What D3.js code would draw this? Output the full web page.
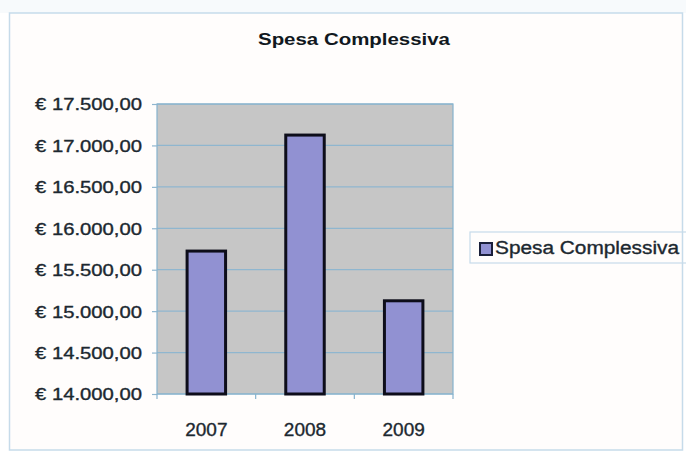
<!DOCTYPE html>
<html>
<head>
<meta charset="utf-8">
<script src="https://cdn.jsdelivr.net/npm/d3@7"></script>
<style>
  html, body { margin: 0; padding: 0; background: #ffffff; }
  svg { display: block; }
  text { font-family: Arial, "Liberation Sans", sans-serif; }
</style>
</head>
<body>
<svg id="chart" width="686" height="455"></svg>
<script>
const categories = ["2007", "2008", "2009"];
const seriesName = "Spesa Complessiva";
const values = [15725, 17125, 15125];
const yTicks = [14000, 14500, 15000, 15500, 16000, 16500, 17000, 17500];
const yTickLabels = ["€ 14.000,00", "€ 14.500,00", "€ 15.000,00", "€ 15.500,00",
                     "€ 16.000,00", "€ 16.500,00", "€ 17.000,00", "€ 17.500,00"];
const titleText = "Spesa Complessiva";

const svg = d3.select("#chart");
const W = 686, H = 455;

// faint top band
svg.append("rect").attr("x", 0).attr("y", 0).attr("width", W).attr("height", 13).attr("fill", "#f7fafc");
// outer frame
svg.append("rect").attr("x", 9.5).attr("y", 13).attr("width", 673).attr("height", 437)
  .attr("fill", "#fffdfc").attr("stroke", "#c6dbea").attr("stroke-width", 1.5);

const plot = { left: 157, right: 453, top: 104, bottom: 394 };

const x = d3.scaleBand().domain(categories).range([plot.left, plot.right]).padding(0);
const y = d3.scaleLinear().domain([14000, 17500]).range([plot.bottom, plot.top]);

// plot background
svg.append("rect").attr("x", plot.left).attr("y", plot.top)
  .attr("width", plot.right - plot.left).attr("height", plot.bottom - plot.top)
  .attr("fill", "#c6c6c6");

// gridlines
svg.append("g").selectAll("line").data(yTicks).join("line")
  .attr("x1", plot.left).attr("x2", plot.right)
  .attr("y1", d => y(d)).attr("y2", d => y(d))
  .attr("stroke", "#8fb6cf").attr("stroke-width", 1.2);

// plot border
svg.append("rect").attr("x", plot.left).attr("y", plot.top)
  .attr("width", plot.right - plot.left).attr("height", plot.bottom - plot.top)
  .attr("fill", "none").attr("stroke", "#86b3ce").attr("stroke-width", 1.2);

// bars
const barW = x.bandwidth() * 0.39;
svg.append("g").selectAll("rect").data(values).join("rect")
  .attr("x", (d, i) => x(categories[i]) + x.bandwidth() / 2 - barW / 2)
  .attr("y", d => y(d))
  .attr("width", barW)
  .attr("height", d => y(14000) - y(d))
  .attr("fill", "#9191d2")
  .attr("stroke", "#0d0d1a").attr("stroke-width", 3);

// y axis
const yAxis = d3.axisLeft(y).tickValues(yTicks)
  .tickFormat((d, i) => yTickLabels[i]).tickSize(5).tickPadding(10);
const gy = svg.append("g").attr("transform", `translate(${plot.left},0)`).call(yAxis);
gy.select(".domain").remove();
gy.selectAll(".tick line").attr("stroke", "#8fb6cf").attr("stroke-width", 1.2);
gy.selectAll(".tick text")
  .attr("font-size", 16.5).attr("fill", "#1c2830")
  .attr("stroke", "#1c2830").attr("stroke-width", 0.35)
  .attr("dy", "0.36em")
  .attr("textLength", 107).attr("lengthAdjust", "spacingAndGlyphs");

// x axis
const xAxis = d3.axisBottom(x).tickSize(0).tickPadding(29);
const gx = svg.append("g").attr("transform", `translate(0,${plot.bottom})`).call(xAxis);
gx.select(".domain").remove();
gx.selectAll(".tick text").attr("font-size", 19).attr("fill", "#1c2830")
  .attr("stroke", "#1c2830").attr("stroke-width", 0.35);
// tick marks at category boundaries
const bounds = categories.map(c => x(c)).concat([x(categories[categories.length - 1]) + x.bandwidth()]);
svg.append("g").selectAll("line").data(bounds).join("line")
  .attr("x1", d => d).attr("x2", d => d)
  .attr("y1", plot.bottom).attr("y2", plot.bottom + 5)
  .attr("stroke", "#86b3ce").attr("stroke-width", 1.2);

// title
svg.append("text").attr("x", 354).attr("y", 45)
  .attr("text-anchor", "middle").attr("font-size", 17).attr("font-weight", "bold")
  .attr("fill", "#111820")
  .attr("textLength", 192).attr("lengthAdjust", "spacingAndGlyphs")
  .text(titleText);

// legend
const lg = svg.append("g");
lg.append("rect").attr("x", 470).attr("y", 232).attr("width", 230).attr("height", 31)
  .attr("fill", "none").attr("stroke", "#c6dbea").attr("stroke-width", 1.2);
lg.append("rect").attr("x", 480).attr("y", 243).attr("width", 12).attr("height", 12)
  .attr("fill", "#9191d2").attr("stroke", "#1a1f3a").attr("stroke-width", 2);
lg.append("text").attr("x", 495).attr("y", 254)
  .attr("font-size", 18).attr("fill", "#1c2830")
  .attr("stroke", "#1c2830").attr("stroke-width", 0.35)
  .attr("textLength", 184).attr("lengthAdjust", "spacingAndGlyphs")
  .text(seriesName);
</script>
</body>
</html>
